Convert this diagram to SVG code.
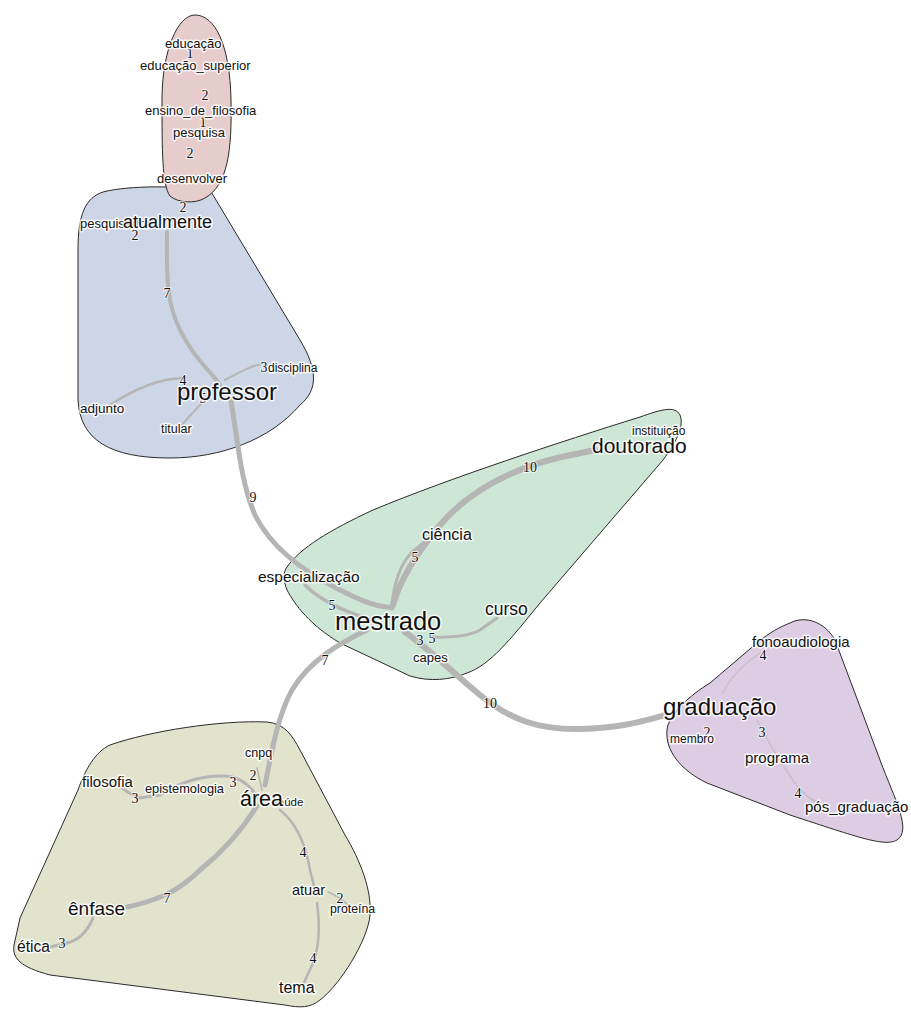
<svg xmlns="http://www.w3.org/2000/svg" width="911" height="1012" viewBox="0 0 911 1012">
<style>
.blob{stroke:#2a2a2a;stroke-width:1}
.e{fill:none;stroke:#b5b5b5;stroke-linecap:round}
.ep{fill:none;stroke:#c8bfcb;stroke-linecap:round}
.l{font-family:"Liberation Sans",Arial,sans-serif;fill:#111;stroke:#fff;stroke-width:3;stroke-opacity:0.85;stroke-linejoin:round;paint-order:stroke}
.n{font-family:"Liberation Serif","Times New Roman",serif;font-size:14px;fill:#111;stroke:#fff;stroke-width:2;stroke-opacity:0.7;paint-order:stroke}
</style>
<rect width="911" height="1012" fill="#fff"/>
<g id="clusters">
<path id="cluster-blue" class="blob" fill="#cdd6e6" d="M103 192 C130 185,180 186,210 190 L300 340 C318 370,318 390,300 405 C270 440,220 458,170 458 C110 458,80 440,78 400 L78 250 C78 215,85 198,103 192 Z"/>
<path id="cluster-pink" class="blob" fill="#e7cccc" d="M195 15 C215 15,230 45,231 100 C232 150,228 185,205 198 C195 204,178 203,170 196 C162 185,162 150,162 100 C162 50,178 15,195 15 Z"/>
<path id="cluster-green" class="blob" fill="#cde6d6" d="M287 567 C300 548,330 530,373 510 C450 478,560 442,640 417 C660 410,675 405,680 415 C684 425,678 440,663 460 L540 603 C510 640,490 665,467 673 C450 680,430 682,410 676 L340 643 C310 625,295 605,287 590 C283 580,283 572,287 567 Z"/>
<path id="cluster-purple" class="blob" fill="#ddcde4" d="M790 623 C805 615,825 622,835 640 L880 760 C895 800,912 830,897 840 C885 847,860 838,790 815 L707 783 C680 770,665 750,667 730 C668 715,690 695,710 683 L757 643 C770 632,780 627,790 623 Z"/>
<path id="cluster-olive" class="blob" fill="#e1e3cd" d="M110 745 C150 731,220 720,267 722 C285 724,292 735,300 750 L345 835 C360 860,372 890,370 915 C368 940,340 985,320 1000 C310 1008,300 1008,285 1005 L50 975 C20 967,12 958,14 945 L20 918 L78 790 C85 770,95 752,110 745 Z"/>
</g>
<g id="connectors">
<path class="e" stroke-width="4" d="M167 232 C167 270,165 300,180 330 S210 370,220 385"/>
<path class="e" stroke-width="2.5" d="M185 378 C160 378,135 388,107 407"/>
<path class="e" stroke-width="2" d="M225 380 C240 372,250 366,262 364"/>
<path class="e" stroke-width="2" d="M205 400 C195 410,185 420,180 428"/>
<path class="e" stroke-width="5" d="M230 395 C238 440,240 480,255 515 C270 545,300 570,340 590 S380 605,392 608"/>
<path class="e" stroke-width="3.5" d="M305 585 C320 600,345 612,372 620"/>
<path class="e" stroke-width="6" d="M393 605 C400 580,415 555,440 525 C470 490,510 470,557 458 L595 450"/>
<path class="e" stroke-width="3" d="M392 604 C395 580,400 565,412 552 L427 540"/>
<path class="e" stroke-width="3" d="M432 637 C450 638,470 636,480 630 L497 618"/>
<path class="e" stroke-width="6" d="M405 632 C430 650,450 670,480 695 C510 720,540 730,580 729 C620 728,640 722,665 715"/>
<path class="e" stroke-width="5" d="M367 630 C340 643,310 660,292 690 C278 715,272 750,265 785"/>
<path class="e" stroke-width="5" d="M257 806 C245 825,225 850,200 870 C180 890,160 900,127 907"/>
<path class="e" stroke-width="3" d="M93 918 C88 930,80 940,67 943 L50 947"/>
<path class="e" stroke-width="3" d="M257 797 C250 785,240 777,225 776 C200 775,180 782,160 795 L140 798 C130 795,125 790,118 785"/>
<path class="e" stroke-width="1.5" d="M262 790 L257 768"/>
<path class="e" stroke-width="2.5" d="M280 810 C295 822,305 840,310 870 L315 890"/>
<path class="e" stroke-width="2.5" d="M317 903 C320 925,320 945,313 963 L302 987"/>
<path class="e" stroke-width="1.5" d="M328 892 C338 896,345 902,350 907"/>
<path class="ep" stroke-width="1.5" d="M723 693 C728 682,738 668,760 653"/>
<path class="ep" stroke-width="1.5" d="M757 720 C765 735,775 755,785 768 C795 785,808 800,820 803"/>
</g>
<g id="edge-labels">
<text class="n" x="190" y="58" text-anchor="middle" font-size="13">1</text>
<text class="n" x="205" y="100" text-anchor="middle">2</text>
<text class="n" x="203" y="127" text-anchor="middle" font-size="13">1</text>
<text class="n" x="190" y="158" text-anchor="middle">2</text>
<text class="n" x="183" y="212" text-anchor="middle">2</text>
<text class="n" x="135" y="240" text-anchor="middle">2</text>
<text class="n" x="167" y="298" text-anchor="middle">7</text>
<text class="n" x="183" y="385" text-anchor="middle">4</text>
<text class="n" x="203" y="403" text-anchor="middle">5</text>
<text class="n" x="264" y="372" text-anchor="middle">3</text>
<text class="n" x="253" y="502" text-anchor="middle">9</text>
<text class="n" x="530" y="472" text-anchor="middle">10</text>
<text class="n" x="415" y="562" text-anchor="middle">5</text>
<text class="n" x="332" y="610" text-anchor="middle">5</text>
<text class="n" x="420" y="645" text-anchor="middle">3</text>
<text class="n" x="432" y="643" text-anchor="middle">5</text>
<text class="n" x="325" y="665" text-anchor="middle">7</text>
<text class="n" x="490" y="708" text-anchor="middle">10</text>
<text class="n" x="763" y="660" text-anchor="middle">4</text>
<text class="n" x="707" y="737" text-anchor="middle">2</text>
<text class="n" x="762" y="737" text-anchor="middle">3</text>
<text class="n" x="798" y="798" text-anchor="middle">4</text>
<text class="n" x="253" y="780" text-anchor="middle">2</text>
<text class="n" x="233" y="787" text-anchor="middle">3</text>
<text class="n" x="135" y="803" text-anchor="middle">3</text>
<text class="n" x="303" y="857" text-anchor="middle">4</text>
<text class="n" x="340" y="903" text-anchor="middle">2</text>
<text class="n" x="167" y="903" text-anchor="middle">7</text>
<text class="n" x="62" y="948" text-anchor="middle">3</text>
<text class="n" x="313" y="963" text-anchor="middle">4</text>
</g>
<g id="node-educacao"><text class="l" x="165" y="48" font-size="13">educação</text></g>
<g id="node-educacao_superior"><text class="l" x="140" y="70" font-size="13">educação_superior</text></g>
<g id="node-ensino_de_filosofia"><text class="l" x="145" y="115" font-size="13">ensino_de_filosofia</text></g>
<g id="node-pesquisa"><text class="l" x="173" y="137" font-size="13">pesquisa</text></g>
<g id="node-desenvolver"><text class="l" x="157" y="183" font-size="13">desenvolver</text></g>
<g id="node-pesquisador"><text class="l" x="80" y="228" font-size="13">pesquisador</text></g>
<g id="node-atualmente"><text class="l" x="123" y="228" font-size="18">atualmente</text></g>
<g id="node-disciplina"><text class="l" x="268" y="372" font-size="12">disciplina</text></g>
<g id="node-professor"><text class="l" x="177" y="400" font-size="24">professor</text></g>
<g id="node-adjunto"><text class="l" x="80" y="413" font-size="13.5">adjunto</text></g>
<g id="node-titular"><text class="l" x="161" y="433" font-size="12.5">titular</text></g>
<g id="node-instituicao"><text class="l" x="632" y="435" font-size="12">instituição</text></g>
<g id="node-doutorado"><text class="l" x="592" y="453" font-size="21">doutorado</text></g>
<g id="node-ciencia"><text class="l" x="422" y="540" font-size="16">ciência</text></g>
<g id="node-especializacao"><text class="l" x="258" y="582" font-size="15.5">especialização</text></g>
<g id="node-curso"><text class="l" x="485" y="615" font-size="17.5">curso</text></g>
<g id="node-mestrado"><text class="l" x="335" y="630" font-size="25.5">mestrado</text></g>
<g id="node-capes"><text class="l" x="413" y="662" font-size="13">capes</text></g>
<g id="node-fonoaudiologia"><text class="l" x="752" y="647" font-size="15">fonoaudiologia</text></g>
<g id="node-graduacao"><text class="l" x="663" y="715" font-size="24">graduação</text></g>
<g id="node-membro"><text class="l" x="670" y="743" font-size="12">membro</text></g>
<g id="node-programa"><text class="l" x="745" y="763" font-size="15">programa</text></g>
<g id="node-pos_graduacao"><text class="l" x="805" y="812" font-size="15">pós_graduação</text></g>
<g id="node-cnpq"><text class="l" x="245" y="757" font-size="12.5">cnpq</text></g>
<g id="node-filosofia"><text class="l" x="82" y="787" font-size="15">filosofia</text></g>
<g id="node-epistemologia"><text class="l" x="145" y="793" font-size="12.8">epistemologia</text></g>
<g id="node-saude"><text class="l" x="272" y="806" font-size="11.5">saúde</text></g>
<g id="node-area"><text class="l" x="240" y="806" font-size="21.5">área</text></g>
<g id="node-atuar"><text class="l" x="292" y="895" font-size="14.5">atuar</text></g>
<g id="node-proteina"><text class="l" x="330" y="913" font-size="12.3">proteína</text></g>
<g id="node-enfase"><text class="l" x="68" y="915" font-size="19">ênfase</text></g>
<g id="node-etica"><text class="l" x="17" y="952" font-size="15.6">ética</text></g>
<g id="node-tema"><text class="l" x="279" y="993" font-size="16">tema</text></g>
</svg>
